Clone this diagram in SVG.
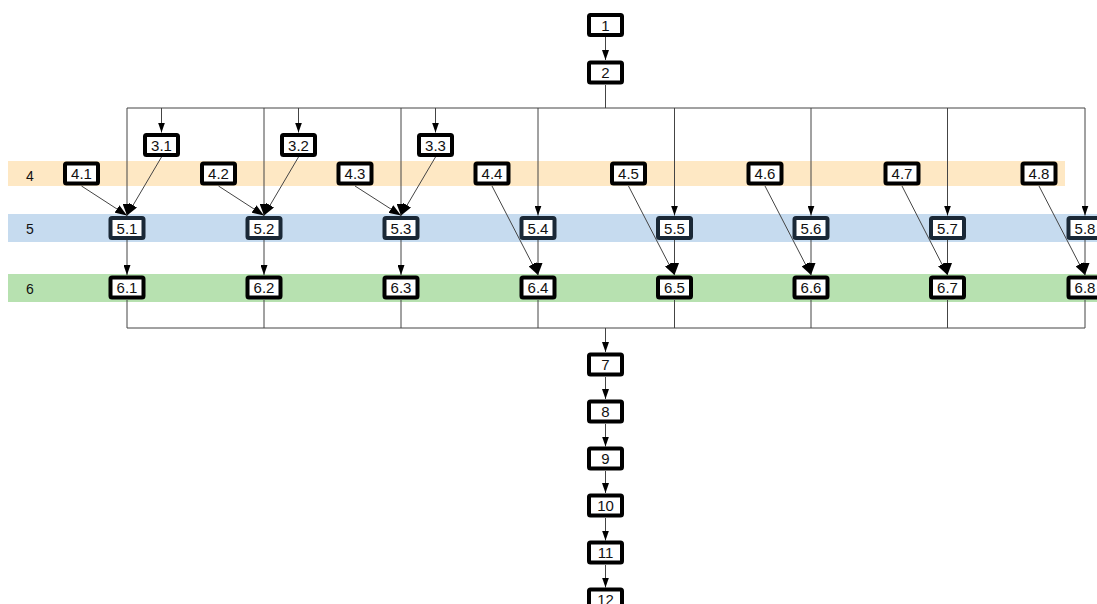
<svg xmlns="http://www.w3.org/2000/svg" width="1097" height="604" viewBox="0 0 1097 604">
<style>
.band4{fill:#fee8c4}
.band5{fill:#c6dbef}
.band6{fill:#b7e1b0}
.bl{font-family:"Liberation Sans",Arial,sans-serif;font-size:14px;fill:#111}
.n rect{fill:#fff;stroke:#000;stroke-width:4}
.n.b rect{stroke:#1a2836}
.n text{font-family:"Liberation Sans",Arial,sans-serif;font-size:15px;fill:#111;text-anchor:middle}
.e{fill:none;stroke:#444;stroke-width:1}
.a{marker-end:url(#ah)}
.A{marker-end:url(#AH)}
</style>
<defs>
<marker id="ah" markerUnits="userSpaceOnUse" markerWidth="10" markerHeight="7" refX="10" refY="3.5" orient="auto"><path d="M0,0 L10,3.5 L0,7 z" fill="#000"/></marker>
<marker id="AH" markerUnits="userSpaceOnUse" markerWidth="12" markerHeight="9" refX="12" refY="4.5" orient="auto"><path d="M0,0 L12,4.5 L0,9 z" fill="#000"/></marker>
</defs>
<g id="bands">
<rect class="band4" x="8" y="161" width="1057" height="25"/>
<rect class="band5" x="8" y="214" width="1089" height="28"/>
<rect class="band6" x="8" y="274" width="1089" height="28"/>
<text class="bl" x="26" y="181">4</text>
<text class="bl" x="26" y="234">5</text>
<text class="bl" x="26" y="294">6</text>
</g>
<g id="connectors">
<path class="e a" d="M605.5,37 V60"/>
<path class="e" d="M605.5,85 V108 M127,108 H1085"/>
<path class="e A" d="M127,108 V215.5"/>
<path class="e A" d="M264,108 V215.5"/>
<path class="e A" d="M401,108 V215.5"/>
<path class="e a" d="M538,108 V215.5"/>
<path class="e a" d="M674.5,108 V215.5"/>
<path class="e a" d="M811,108 V215.5"/>
<path class="e a" d="M947.5,108 V215.5"/>
<path class="e a" d="M1085,108 V215.5"/>
<path class="e a" d="M161.5,108 V132.5"/>
<path class="e a" d="M298.5,108 V132.5"/>
<path class="e a" d="M435.5,108 V132.5"/>
<path class="e A" d="M161.5,157 L127,215.5"/>
<path class="e A" d="M298.5,157 L264,215.5"/>
<path class="e A" d="M435.5,157 L401,215.5"/>
<path class="e A" d="M81.5,186 L127,215.5"/>
<path class="e A" d="M218.5,186 L264,215.5"/>
<path class="e A" d="M355,186 L401,215.5"/>
<path class="e A" d="M492,186 L538,275"/>
<path class="e A" d="M628.5,186 L674.5,275"/>
<path class="e A" d="M765,186 L811,275"/>
<path class="e A" d="M902,186 L947.5,275"/>
<path class="e A" d="M1039,186 L1085,275"/>
<path class="e a" d="M127,240 V275"/>
<path class="e a" d="M264,240 V275"/>
<path class="e a" d="M401,240 V275"/>
<path class="e A" d="M538,240 V275"/>
<path class="e A" d="M674.5,240 V275"/>
<path class="e A" d="M811,240 V275"/>
<path class="e A" d="M947.5,240 V275"/>
<path class="e A" d="M1085,240 V275"/>
<path class="e" d="M127,300 V328 M264,300 V328 M401,300 V328 M538,300 V328 M674.5,300 V328 M811,300 V328 M947.5,300 V328 M1085,300 V328 M127,328 H1085"/>
<path class="e a" d="M605.5,328 V352"/>
<path class="e a" d="M605.5,377 V399"/>
<path class="e a" d="M605.5,424 V446.5"/>
<path class="e a" d="M605.5,471 V493"/>
<path class="e a" d="M605.5,518 V540.5"/>
<path class="e a" d="M605.5,565 V587.5"/>
</g>
<g id="n1" class="n"><rect x="589" y="15" width="33" height="20" rx="1.5"/><text x="605.5" y="30.5">1</text></g>
<g id="n2" class="n"><rect x="589" y="62.5" width="33" height="20" rx="1.5"/><text x="605.5" y="78">2</text></g>
<g id="n3_1" class="n"><rect x="145" y="135" width="33" height="20" rx="1.5"/><text x="161.5" y="150.5">3.1</text></g>
<g id="n3_2" class="n"><rect x="282" y="135" width="33" height="20" rx="1.5"/><text x="298.5" y="150.5">3.2</text></g>
<g id="n3_3" class="n"><rect x="419" y="135" width="33" height="20" rx="1.5"/><text x="435.5" y="150.5">3.3</text></g>
<g id="n4_1" class="n"><rect x="65" y="163.5" width="33" height="20" rx="1.5"/><text x="81.5" y="179">4.1</text></g>
<g id="n4_2" class="n"><rect x="202" y="163.5" width="33" height="20" rx="1.5"/><text x="218.5" y="179">4.2</text></g>
<g id="n4_3" class="n"><rect x="338.5" y="163.5" width="33" height="20" rx="1.5"/><text x="355" y="179">4.3</text></g>
<g id="n4_4" class="n"><rect x="475.5" y="163.5" width="33" height="20" rx="1.5"/><text x="492" y="179">4.4</text></g>
<g id="n4_5" class="n"><rect x="612" y="163.5" width="33" height="20" rx="1.5"/><text x="628.5" y="179">4.5</text></g>
<g id="n4_6" class="n"><rect x="748.5" y="163.5" width="33" height="20" rx="1.5"/><text x="765" y="179">4.6</text></g>
<g id="n4_7" class="n"><rect x="885.5" y="163.5" width="33" height="20" rx="1.5"/><text x="902" y="179">4.7</text></g>
<g id="n4_8" class="n"><rect x="1022.5" y="163.5" width="33" height="20" rx="1.5"/><text x="1039" y="179">4.8</text></g>
<g id="n5_1" class="n b"><rect x="110.5" y="218" width="33" height="20" rx="1.5"/><text x="127" y="233.5">5.1</text></g>
<g id="n5_2" class="n b"><rect x="247.5" y="218" width="33" height="20" rx="1.5"/><text x="264" y="233.5">5.2</text></g>
<g id="n5_3" class="n b"><rect x="384.5" y="218" width="33" height="20" rx="1.5"/><text x="401" y="233.5">5.3</text></g>
<g id="n5_4" class="n b"><rect x="521.5" y="218" width="33" height="20" rx="1.5"/><text x="538" y="233.5">5.4</text></g>
<g id="n5_5" class="n b"><rect x="658" y="218" width="33" height="20" rx="1.5"/><text x="674.5" y="233.5">5.5</text></g>
<g id="n5_6" class="n b"><rect x="794.5" y="218" width="33" height="20" rx="1.5"/><text x="811" y="233.5">5.6</text></g>
<g id="n5_7" class="n b"><rect x="931" y="218" width="33" height="20" rx="1.5"/><text x="947.5" y="233.5">5.7</text></g>
<g id="n5_8" class="n b"><rect x="1068.5" y="218" width="33" height="20" rx="1.5"/><text x="1085" y="233.5">5.8</text></g>
<g id="n6_1" class="n"><rect x="110.5" y="277.5" width="33" height="20" rx="1.5"/><text x="127" y="293">6.1</text></g>
<g id="n6_2" class="n"><rect x="247.5" y="277.5" width="33" height="20" rx="1.5"/><text x="264" y="293">6.2</text></g>
<g id="n6_3" class="n"><rect x="384.5" y="277.5" width="33" height="20" rx="1.5"/><text x="401" y="293">6.3</text></g>
<g id="n6_4" class="n"><rect x="521.5" y="277.5" width="33" height="20" rx="1.5"/><text x="538" y="293">6.4</text></g>
<g id="n6_5" class="n"><rect x="658" y="277.5" width="33" height="20" rx="1.5"/><text x="674.5" y="293">6.5</text></g>
<g id="n6_6" class="n"><rect x="794.5" y="277.5" width="33" height="20" rx="1.5"/><text x="811" y="293">6.6</text></g>
<g id="n6_7" class="n"><rect x="931" y="277.5" width="33" height="20" rx="1.5"/><text x="947.5" y="293">6.7</text></g>
<g id="n6_8" class="n"><rect x="1068.5" y="277.5" width="33" height="20" rx="1.5"/><text x="1085" y="293">6.8</text></g>
<g id="n7" class="n"><rect x="589" y="354.5" width="33" height="20" rx="1.5"/><text x="605.5" y="370">7</text></g>
<g id="n8" class="n"><rect x="589" y="401.5" width="33" height="20" rx="1.5"/><text x="605.5" y="417">8</text></g>
<g id="n9" class="n"><rect x="589" y="448.5" width="33" height="20" rx="1.5"/><text x="605.5" y="464">9</text></g>
<g id="n10" class="n"><rect x="589" y="495.5" width="33" height="20" rx="1.5"/><text x="605.5" y="511">10</text></g>
<g id="n11" class="n"><rect x="589" y="542.5" width="33" height="20" rx="1.5"/><text x="605.5" y="558">11</text></g>
<g id="n12" class="n"><rect x="589" y="589.5" width="33" height="20" rx="1.5"/><text x="605.5" y="605">12</text></g>
</svg>
